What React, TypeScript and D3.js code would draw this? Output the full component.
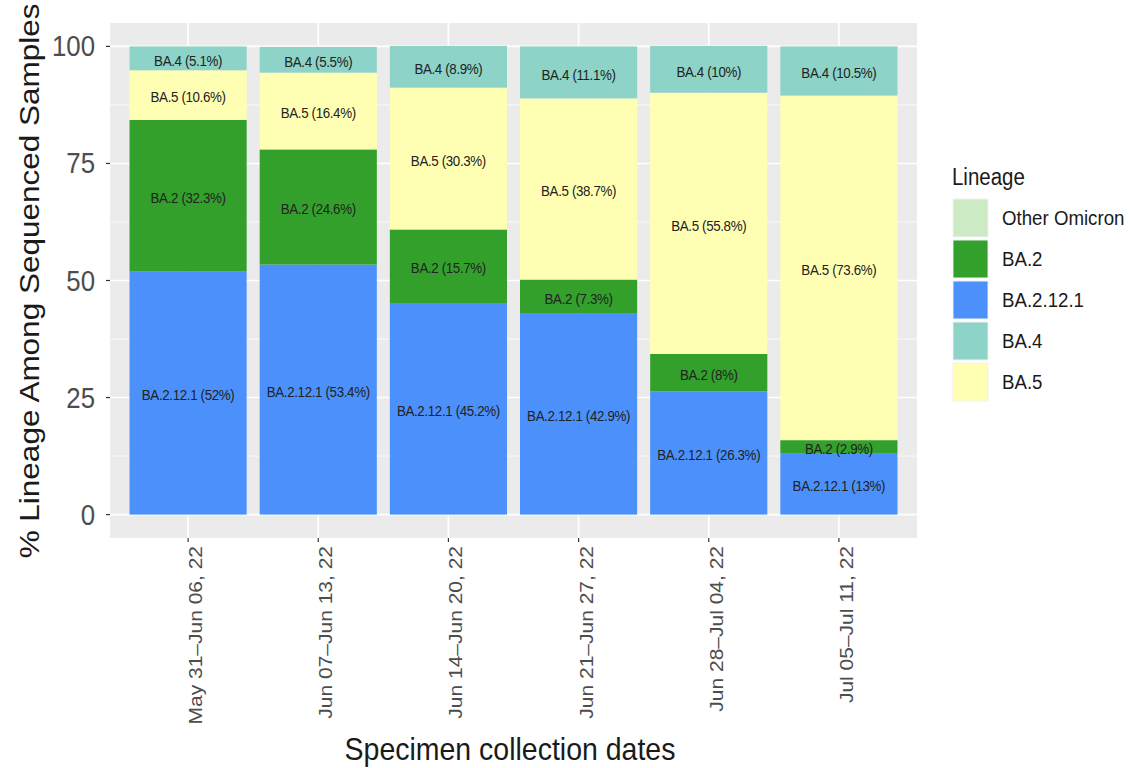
import React from 'react';
import * as d3 from 'd3';

// collection weeks (x categories)
const weeks = [
  'May 31–Jun 06, 22',
  'Jun 07–Jun 13, 22',
  'Jun 14–Jun 20, 22',
  'Jun 21–Jun 27, 22',
  'Jun 28–Jul 04, 22',
  'Jul 05–Jul 11, 22',
];

// legend order + fill colours
const lineages = ['Other Omicron', 'BA.2', 'BA.2.12.1', 'BA.4', 'BA.5'];
const lineageColors = ['#CCEBC5', '#33A02C', '#4C91FB', '#8DD3C7', '#FFFFB3'];

// stacking order, bottom -> top
const stackOrder = ['BA.2.12.1', 'BA.2', 'BA.5', 'BA.4', 'Other Omicron'];

// percent of sequenced samples per week
const otherOmicron = [0, 0, 0, 0, 0, 0];
const ba2 = [32.3, 24.6, 15.7, 7.3, 8, 2.9];
const ba2121 = [52, 53.4, 45.2, 42.9, 26.3, 13];
const ba4 = [5.1, 5.5, 8.9, 11.1, 10, 10.5];
const ba5 = [10.6, 16.4, 30.3, 38.7, 55.8, 73.6];

const yTicks = [0, 25, 50, 75, 100];

// the reference is squeezed horizontally, so draw in a wider box and stretch it
const SX = 0.89;
const W = 1134 / SX;
const H = 768;
const px = (x: number) => x / SX;

const FONT = '"Liberation Sans", Arial, Helvetica, sans-serif';

const App = () => {
  const rows = weeks.map((w, i) => ({
    week: w,
    'Other Omicron': otherOmicron[i],
    'BA.2': ba2[i],
    'BA.2.12.1': ba2121[i],
    'BA.4': ba4[i],
    'BA.5': ba5[i],
  }));

  const panel = { left: px(110), right: px(917), top: 23, bottom: 538 };

  const x = d3.scaleBand<string>()
    .domain(weeks)
    .range([panel.left, panel.right])
    .paddingInner(0.1)
    .paddingOuter(0.15);

  const y = d3.scaleLinear().domain([-5, 105]).range([panel.bottom, panel.top]);

  const color = d3.scaleOrdinal<string, string>().domain(lineages).range(lineageColors);

  const series = d3.stack<any>().keys(stackOrder)(rows);

  const minorTicks = yTicks.slice(1).map((t, i) => (t + yTicks[i]) / 2);

  const legendX = px(953);
  const keyW = px(988) - px(953);

  return (
    <svg
      width={1134}
      height={H}
      viewBox={`0 0 ${W} ${H}`}
      preserveAspectRatio="none"
      style={{ position: 'absolute', left: 0, top: 0, background: '#fff' }}
      fontFamily={FONT}
    >
      {/* panel */}
      <rect x={panel.left} y={panel.top} width={panel.right - panel.left} height={panel.bottom - panel.top} fill="#EBEBEB" />

      {minorTicks.map((t) => (
        <line key={'mn' + t} x1={panel.left} x2={panel.right} y1={y(t)} y2={y(t)} stroke="#fff" strokeWidth={0.8} />
      ))}
      {yTicks.map((t) => (
        <line key={'mj' + t} x1={panel.left} x2={panel.right} y1={y(t)} y2={y(t)} stroke="#fff" strokeWidth={1.6} />
      ))}
      {weeks.map((w) => (
        <line key={'vx' + w} x1={x(w)! + x.bandwidth() / 2} x2={x(w)! + x.bandwidth() / 2} y1={panel.top} y2={panel.bottom} stroke="#fff" strokeWidth={1.6 / SX} />
      ))}

      {/* stacked bars */}
      {series.map((s) => (
        <g key={s.key} fill={color(s.key)}>
          {s.map((d: any) => (
            d[1] - d[0] > 0 ? (
              <rect key={d.data.week} x={x(d.data.week)} width={x.bandwidth()} y={y(d[1])} height={y(d[0]) - y(d[1])} />
            ) : null
          ))}
        </g>
      ))}

      {/* segment labels */}
      {series.map((s) => (
        <g key={'lb' + s.key}>
          {s.map((d: any) => {
            const v = d[1] - d[0];
            if (v <= 0) return null;
            return (
              <text
                key={d.data.week}
                x={x(d.data.week)! + x.bandwidth() / 2}
                y={y((d[0] + d[1]) / 2) + 2}
                textAnchor="middle"
                dominantBaseline="central"
                fontSize={15}
                fill="#222"
                letterSpacing={-0.4}
              >
                {`${s.key} (${d.data[s.key]}%)`}
              </text>
            );
          })}
        </g>
      ))}

      {/* y axis */}
      {yTicks.map((t) => (
        <g key={'yt' + t}>
          <line x1={panel.left - px(4)} x2={panel.left} y1={y(t)} y2={y(t)} stroke="#333" strokeWidth={1.2} />
          <text x={px(95)} y={y(t)} textAnchor="end" dominantBaseline="central" fontSize={29} fill="#4D4D4D">
            {t}
          </text>
        </g>
      ))}

      {/* x axis */}
      {weeks.map((w) => {
        const cx = x(w)! + x.bandwidth() / 2;
        return (
          <g key={'xt' + w}>
            <line x1={cx} x2={cx} y1={panel.bottom} y2={panel.bottom + 4} stroke="#333" strokeWidth={1.2 / SX} />
            <text
              transform={`translate(${cx + px(14)},${panel.bottom + 8}) rotate(-90)`}
              textAnchor="end"
              fontSize={21}
              fill="#4D4D4D"
            >
              {w}
            </text>
          </g>
        );
      })}

      {/* axis titles */}
      <text x={px(510)} y={760} textAnchor="middle" fontSize={32} fill="#1A1A1A">
        Specimen collection dates
      </text>
      <text transform={`translate(${px(39)},281) rotate(-90)`} textAnchor="middle" fontSize={31.5} fill="#1A1A1A">
        % Lineage Among Sequenced Samples
      </text>

      {/* legend */}
      <text x={px(952)} y={185} fontSize={23} fill="#1A1A1A">Lineage</text>
      {lineages.map((l, i) => {
        const ky = 199 + i * 41;
        return (
          <g key={'lg' + l}>
            <rect x={legendX} y={ky} width={keyW} height={38} fill={color(l)} stroke="#F2F2F2" strokeWidth={1} />
            <text x={px(1002)} y={ky + 19} dominantBaseline="central" fontSize={21} fill="#1A1A1A">
              {l}
            </text>
          </g>
        );
      })}
    </svg>
  );
};

export default App;
